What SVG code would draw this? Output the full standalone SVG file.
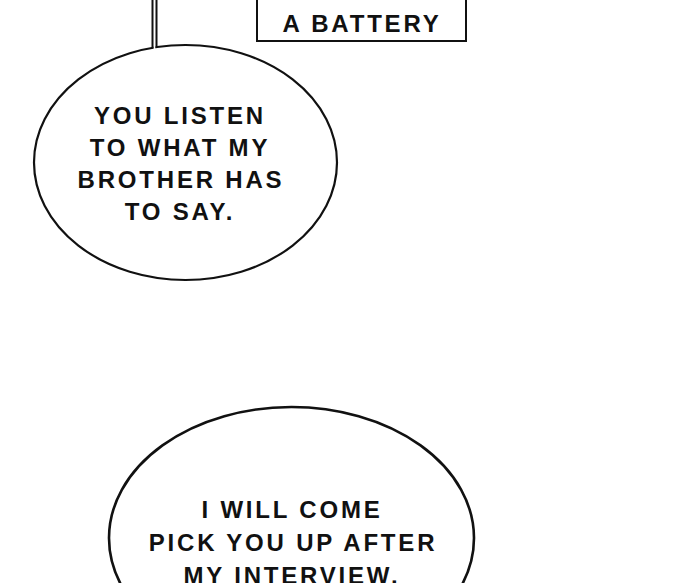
<svg xmlns="http://www.w3.org/2000/svg" width="700" height="583" viewBox="0 0 700 583">
  <style>
    .line { fill: none; stroke: #111; stroke-width: 2; }
    .bubble { fill: #fff; stroke: #111; stroke-width: 2.2; }
    .txt { font-family: "Liberation Sans", Arial, sans-serif; font-weight: bold; font-size: 24px; letter-spacing: 2.8px; fill: #111; text-anchor: middle; }
  </style>
  <rect x="0" y="0" width="700" height="583" fill="#fff"/>

  <g id="caption-box">
    <rect x="257" y="-10" width="209" height="51" fill="#fff" stroke="#111" stroke-width="2"/>
    <text class="txt" x="362" y="32">A BATTERY</text>
  </g>

  <g id="bubble-1">
    <ellipse class="bubble" cx="185.5" cy="162.5" rx="151.5" ry="117.5"/>
    <rect x="153.5" y="0" width="2" height="50" fill="#fff"/>
    <line class="line" x1="152.5" y1="0" x2="152.5" y2="48.5"/>
    <line class="line" x1="156.5" y1="0" x2="156.5" y2="48"/>
    <text class="txt" x="180" y="124">YOU LISTEN</text>
    <text class="txt" x="180" y="156">TO WHAT MY</text>
    <text class="txt" x="181" y="188">BROTHER HAS</text>
    <text class="txt" x="180" y="220">TO SAY.</text>
  </g>

  <g id="bubble-2">
    <ellipse class="bubble" cx="291.5" cy="538" rx="182.5" ry="131" style="stroke-width:2.6"/>
    <text class="txt" x="292" y="518">I WILL COME</text>
    <text class="txt" x="293" y="551">PICK YOU UP AFTER</text>
    <text class="txt" x="292" y="584">MY INTERVIEW.</text>
  </g>
</svg>
